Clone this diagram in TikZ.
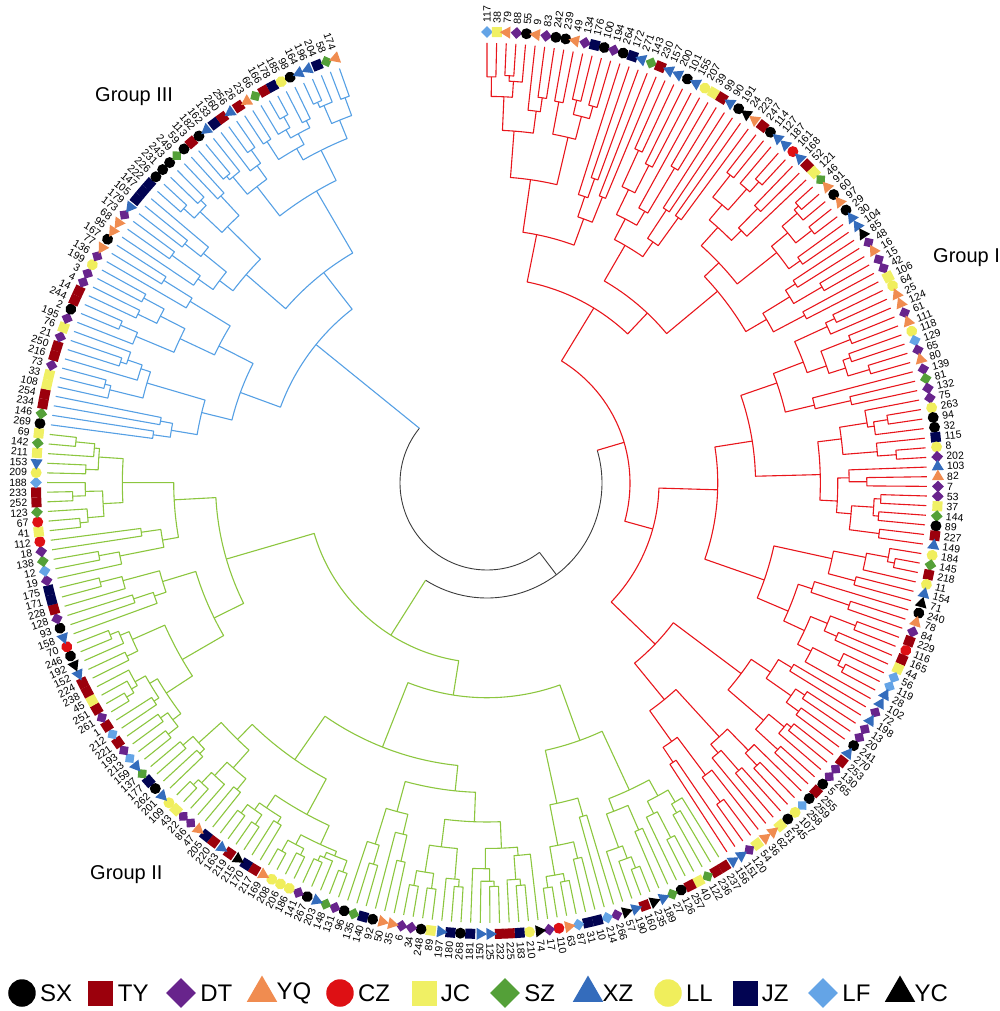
\documentclass[tikz,border=0pt]{standalone}
\usepackage{fontspec}
\setmainfont{Liberation Sans}
\usetikzlibrary{shapes.geometric,positioning}

\definecolor{treered}{RGB}{232,22,28}
\definecolor{treegreen}{RGB}{140,198,63}
\definecolor{treeblue}{RGB}{86,160,228}
\definecolor{treeroot}{RGB}{60,60,60}
\definecolor{cTY}{RGB}{155,0,12}
\definecolor{cDT}{RGB}{104,36,140}
\definecolor{cYQ}{RGB}{240,140,80}
\definecolor{cCZ}{RGB}{222,16,20}
\definecolor{cJC}{RGB}{240,240,100}
\definecolor{cSZ}{RGB}{84,160,56}
\definecolor{cXZ}{RGB}{52,108,188}
\definecolor{cLL}{RGB}{240,238,92}
\definecolor{cJZ}{RGB}{2,4,82}
\definecolor{cLF}{RGB}{100,164,230}

\newcommand\msz{1}
\tikzset{
  rootline/.style={treeroot, line width=0.9pt},
  redline/.style={treered, line width=1.1pt},
  greenline/.style={treegreen, line width=1.1pt},
  blueline/.style={treeblue, line width=1.1pt},
  dotmk/.style={circle, draw=none, inner sep=0pt, minimum size=11pt*\msz},
  boxmk/.style={rectangle, draw=none, inner sep=0pt, minimum size=10pt*\msz},
  rhombmk/.style={diamond, draw=none, inner sep=0pt, minimum size=12pt*\msz},
  trimk/.style={regular polygon, regular polygon sides=3, draw=none, inner sep=0pt, minimum size=14pt*\msz},
  mkSX/.style={dotmk, fill=black},
  mkTY/.style={boxmk, fill=cTY},
  mkDT/.style={rhombmk, fill=cDT},
  mkYQ/.style={trimk, fill=cYQ},
  mkCZ/.style={dotmk, fill=cCZ},
  mkJC/.style={boxmk, fill=cJC},
  mkSZ/.style={rhombmk, fill=cSZ},
  mkXZ/.style={trimk, fill=cXZ},
  mkLL/.style={dotmk, fill=cLL},
  mkJZ/.style={boxmk, fill=cJZ},
  mkLF/.style={rhombmk, fill=cLF},
  mkYC/.style={trimk, fill=black},
  leaflabel/.style={inner sep=0pt, font=\fontsize{10.5}{11}\selectfont},
  grouplabel/.style={inner sep=0pt, anchor=west, font=\fontsize{20}{24}\selectfont},
  legendtext/.style={inner sep=0pt, font=\fontsize{24}{28}\selectfont}
}

% leaf i sits at 90 - (i-1)*\leafstep degrees
\newcommand\cladeat[7]{%
  \begingroup
  \edef\clo{#1}\edef\csp{#2}\edef\chig{#3}\edef\crad{#4}\edef\crl{#5}\edef\crr{#6}%
  \pgfmathtruncatemacro\cnx{\csp+1}%
  \pgfmathsetmacro\aleft{90-((\clo+\csp)/2-1)*\leafstep}%
  \pgfmathsetmacro\aright{90-((\cnx+\chig)/2-1)*\leafstep}%
  \draw[#7] (\aleft:\crl) -- (\aleft:\crad)
    arc[start angle=\aleft, end angle=\aright, radius=\crad pt] -- (\aright:\crr);
  \clade{\clo}{\csp}{\crl}{#7}%
  \clade{\cnx}{\chig}{\crr}{#7}%
  \endgroup}
\newcommand\clade[4]{%
  \ifnum#1<#2\relax
  \begingroup
  \edef\dlo{#1}\edef\dhi{#2}\edef\drad{#3}%
  \pgfmathtruncatemacro\dsp{\dlo+min(\dhi-\dlo-1,floor((\dhi-\dlo)*(0.25+0.5*rnd)))}%
  \pgfmathtruncatemacro\dnx{\dsp+1}%
  \ifnum\dlo=\dsp\relax\let\drl\rleaf\else\pgfmathsetmacro\drl{\drad+(\rleaf-\drad)*(0.1+0.32*rnd)}\fi
  \ifnum\dnx=\dhi\relax\let\drr\rleaf\else\pgfmathsetmacro\drr{\drad+(\rleaf-\drad)*(0.1+0.32*rnd)}\fi
  \cladeat{\dlo}{\dsp}{\dhi}{\drad}{\drl}{\drr}{#4}%
  \endgroup
  \fi}

\begin{document}
\begin{tikzpicture}[x=1pt, y=1pt, line join=round]
  \useasboundingbox (-487,-528) rectangle (513,483);
  \pgfmathsetseed{42}
  \pgfmathsetmacro\leafstep{340.4/271}
  \def\rleaf{440}
  \pgfmathsetmacro\ared{90-58.5*\leafstep}
  \pgfmathsetmacro\agreen{90-169*\leafstep}
  \pgfmathsetmacro\ablue{90-246*\leafstep+360}
  \pgfmathsetmacro\ajoin{(\ared+\agreen)/2}

  % root and the join of groups I and II
  \draw[rootline] (\ablue:87) arc[start angle=\ablue, end angle=\ajoin+360, radius=87pt];
  \draw[rootline] (\ajoin:87) -- (\ajoin:115);
  \draw[rootline] (\agreen:115) arc[start angle=\agreen, end angle=\ared, radius=115pt];
  \draw[blueline] (\ablue:87) -- (\ablue:220);
  \draw[greenline] (\agreen:115) -- (\agreen:180);
  \draw[redline] (\ared:115) -- (\ared:143);

  \cladeat{1}{51}{118}{143}{205}{172}{redline}
  \clade{119}{221}{180}{greenline}
  \clade{222}{272}{220}{blueline}

  % leaves: label/population
  \foreach \lab/\grp [count=\i] in {
    117/LF, 38/JC, 79/YQ, 88/DT, 55/SX, 9/YQ, 83/DT, 242/SX, 239/SX, 49/YQ, 134/DT, 176/JZ,
    100/SX, 194/DT, 264/SX, 172/JZ, 271/XZ, 143/SZ, 230/TY, 157/XZ, 200/XZ, 101/SX, 155/XZ, 207/LL,
    39/JC, 99/TY, 90/XZ, 191/SX, 24/YC, 223/YQ, 247/TY, 114/SX, 127/XZ, 187/XZ, 161/CZ, 168/XZ,
    52/TY, 121/JC, 46/SZ, 91/YQ, 60/SX, 97/YQ, 29/SX, 30/XZ, 104/XZ, 85/YC, 48/DT, 16/YQ,
    15/DT, 42/DT, 106/JC, 64/LL, 25/YQ, 124/YQ, 61/DT, 111/YQ, 118/LL, 129/LF, 65/DT, 80/YQ,
    139/DT, 81/SZ, 132/DT, 75/DT, 263/LL, 94/SX, 32/SX, 115/JZ, 8/LL, 202/DT, 103/XZ, 82/YQ,
    7/DT, 53/DT, 37/JC, 144/SZ, 89/SX, 227/TY, 149/XZ, 184/LL, 145/SZ, 218/TY, 11/LL, 154/XZ,
    71/YC, 240/SX, 78/YQ, 84/DT, 229/TY, 116/CZ, 165/TY, 44/JC, 56/LF, 119/LF, 28/XZ, 102/XZ,
    72/DT, 198/XZ, 13/DT, 20/DT, 241/SX, 270/XZ, 253/TY, 130/DT, 265/DT, 5/SX, 255/TY, 259/SX,
    258/LF, 107/LL, 245/SX, 51/JC, 62/YQ, 36/YQ, 54/JC, 120/DT, 151/XZ, 156/XZ,
    237/TY, 236/TY, 122/SZ, 40/JC, 257/TY, 126/SX, 27/SZ, 189/XZ, 235/YC, 160/TY, 190/XZ, 57/YC,
    266/DT, 214/LF, 10/JZ, 31/JZ, 87/LF, 63/YQ, 110/CZ, 17/DT, 74/YC, 210/LL, 183/JZ, 225/TY,
    232/TY, 125/XZ, 150/XZ, 181/JZ, 268/SX, 180/JZ, 197/XZ, 89/JC, 248/SX, 34/DT, 6/DT, 35/YQ,
    50/YQ, 92/SX, 140/JZ, 135/SZ, 96/SX, 131/DT, 148/SZ, 203/XZ, 267/SX, 141/DT, 186/LL, 206/LL,
    208/LL, 169/YQ, 217/TY, 170/JZ, 215/YC, 219/TY, 163/XZ, 220/TY, 205/JZ, 47/YQ, 86/DT, 22/DT,
    43/JC, 109/LL, 201/XZ, 262/SX, 177/JZ, 137/SZ, 159/XZ, 213/LF, 193/DT, 221/TY, 212/LF, 1/TY,
    261/DT, 251/TY, 45/JC, 238/TY, 224/TY, 152/XZ, 192/YC, 246/SX, 70/CZ, 158/XZ, 93/SX, 128/DT,
    228/TY, 171/JZ, 175/JZ, 19/DT, 12/LF, 138/SZ, 18/DT, 112/CZ, 41/JC, 67/CZ, 123/SZ, 252/TY,
    233/TY, 188/LF, 209/LL, 153/XZ, 211/JC, 142/SZ, 69/JC,
    269/SX, 146/SZ, 234/TY, 254/TY, 108/JC, 33/JC, 73/DT, 216/TY, 250/TY, 21/DT, 76/JC, 195/DT,
    2/SX, 244/TY, 14/TY, 4/DT, 3/DT, 199/LL, 136/DT, 77/YQ, 167/SX, 95/YQ, 68/YQ, 173/DT,
    179/XZ, 105/JZ, 147/JZ, 222/JZ, 226/SX, 231/SX, 243/SX, 249/SZ, 59/SX, 113/TY, 182/SX, 162/XZ,
    133/JZ, 260/TY, 256/XZ, 26/TY, 23/YQ, 66/SZ, 166/TY, 178/JZ, 185/LL, 98/SX, 164/XZ, 196/XZ,
    204/JZ, 58/SZ, 174/YQ}
  {
    \pgfmathsetmacro\ang{90-(\i-1)*\leafstep}
    \node[mk\grp, rotate=\ang] (m\i) at (\ang:451) {};
    \ifdim\ang pt>-90pt
      \node[leaflabel, anchor=west, rotate=\ang] (l\i) at (\ang:460) {\lab};
    \else
      \node[leaflabel, anchor=east, rotate=\ang+180] (l\i) at (\ang:460) {\lab};
    \fi
  }

  \node[grouplabel] (gI) at (446,225) {Group I};
  \node[grouplabel] (gII) at (-397,-392) {Group II};
  \node[grouplabel] (gIII) at (-392,386) {Group III};

  % legend
  \renewcommand\msz{2.5}
  \foreach \grp/\x in {SX/22, TY/101, DT/181, YQ/262, CZ/340, JC/424,
                       SZ/505, XZ/588, LL/668, JZ/745, LF/823, YC/900}
  {
    \node[mk\grp] (k\grp) at (\x-487,-510) {};
    \node[legendtext, right=4pt of k\grp] (t\grp) {\grp};
  }
\end{tikzpicture}
\end{document}
